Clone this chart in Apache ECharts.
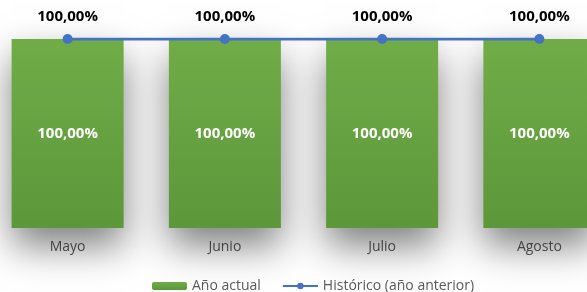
<!DOCTYPE html>
<html>
<head>
<meta charset="utf-8">
<script src="https://cdn.jsdelivr.net/npm/echarts@6/dist/echarts.min.js"></script>
<style>
  html, body { margin: 0; padding: 0; background: #fff; }
  #chart { width: 587px; height: 292px; }
</style>
</head>
<body>
<div id="chart"></div>
<script>
var months = ["Mayo", "Junio", "Julio", "Agosto"];
var anoActual = [1, 1, 1, 1];
var historico = [1, 1, 1, 1];

function pct(p) {
    return (p.value * 100).toFixed(2).replace('.', ',') + '%';
}

var myChart = echarts.init(document.getElementById('chart'));
var option = {
    animation: false,
    textStyle: { fontFamily: 'Open Sans' },
    // chart is cut on the right, so the grid runs past the canvas
    grid: { left: -11, right: -31, top: 39, bottom: 64, outerBoundsMode: 'none' },
    legend: {
        top: 274,
        left: 147,
        itemWidth: 35,
        itemHeight: 8,
        itemGap: 21,
        textStyle: { color: '#595959', fontSize: 14 },
        data: ['Año actual', 'Histórico (año anterior)']
    },
    xAxis: {
        type: 'category',
        data: months,
        axisLine: { show: false },
        axisTick: { show: false },
        axisLabel: { color: '#595959', fontSize: 14, margin: 12 }
    },
    yAxis: {
        type: 'value',
        min: 0,
        max: 1,
        show: false,
        splitLine: { show: false }
    },
    series: [
        {
            name: 'Año actual',
            type: 'bar',
            barWidth: 112,
            data: anoActual,
            itemStyle: {
                color: new echarts.graphic.LinearGradient(0, 0, 0, 1, [
                    { offset: 0, color: '#70ad47' },
                    { offset: 1, color: '#5c973a' }
                ]),
                shadowColor: 'rgba(0,0,0,0.5)',
                shadowBlur: 36,
                shadowOffsetY: 18
            },
            label: {
                show: true,
                position: 'inside',
                color: '#fff',
                fontWeight: 'bold',
                fontSize: 15,
                formatter: pct
            }
        },
        {
            name: 'Histórico (año anterior)',
            type: 'line',
            data: historico,
            symbol: 'circle',
            symbolSize: 10,
            lineStyle: { color: '#4472c4', width: 3 },
            itemStyle: { color: '#4472c4' },
            label: {
                show: true,
                position: 'top',
                distance: 10,
                color: '#000',
                fontWeight: 'bold',
                fontSize: 15,
                formatter: pct
            }
        }
    ]
};
myChart.setOption(option);
</script>
</body>
</html>
